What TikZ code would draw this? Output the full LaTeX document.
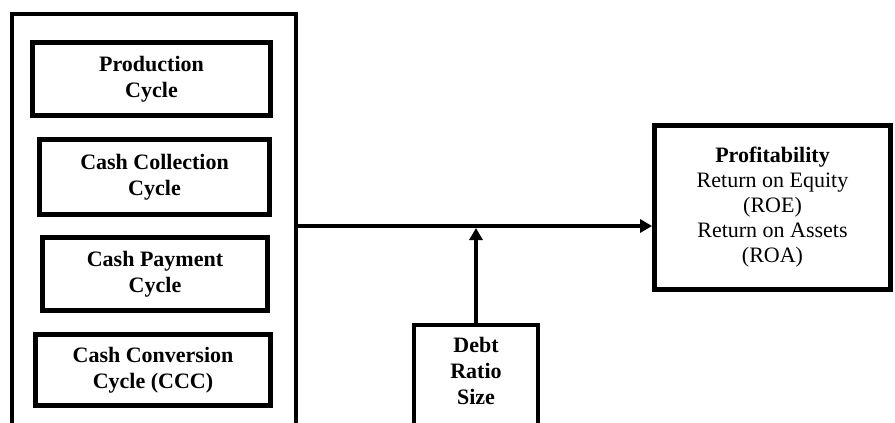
\documentclass[tikz,border=0pt]{standalone}
\usepackage{fontspec}
\setmainfont{Liberation Serif}
\usetikzlibrary{positioning,arrows.meta}
\newcommand{\BoxThick}{2.4pt}
\newcommand{\FrameThick}{2pt}
\newcommand{\LineThick}{2pt}
\newcommand{\TextSize}{\fontsize{11}{13}\selectfont}
\definecolor{Black}{RGB}{0, 0, 0}

\begin{document}
\begin{tikzpicture}[x=0.5pt,y=-0.5pt]
  \tikzstyle{every node}=[font=\TextSize, align=center, text=Black]
  \tikzstyle{cyclebox}=[draw=Black, line width=\BoxThick, inner sep=0pt, font=\TextSize\bfseries]
  \tikzstyle{arrowline}=[draw=Black, line width=\LineThick, -{Triangle[width=6.5pt,length=6pt]}]
  \useasboundingbox (0,0) rectangle (895,423);
  \clip (0,0) rectangle (895,423);

  % Frame round the cycles
  \node[draw=Black, line width=\FrameThick, minimum width=142pt, minimum height=218pt] (frame) at (154,232) {};

  % Cycles
  \node[cyclebox, minimum width=119pt, minimum height=36.5pt] (production) at (151.5,79) {Production\\Cycle};
  \node[cyclebox, minimum width=115pt, minimum height=37.5pt] (collection) at (154.5,177) {Cash Collection\\Cycle};
  \node[cyclebox, minimum width=112.5pt, minimum height=36.5pt] (payment) at (155,274) {Cash Payment\\Cycle};
  \node[cyclebox, minimum width=117.5pt, minimum height=35.5pt] (conversion) at (153,370) {Cash Conversion\\Cycle (CCC)};

  % Profitability
  \node[draw=Black, line width=\BoxThick, minimum width=118pt, minimum height=82pt, font=\fontsize{11}{12.5}\selectfont] (profit) at (772.5,207.5)
    {\textbf{Profitability}\\Return on Equity\\(ROE)\\Return on Assets\\(ROA)};

  % Control variables
  \node[draw=Black, line width=\BoxThick, minimum width=62pt, minimum height=62.5pt] (debt) at (476,387.5) {};
  \node[below=3.8pt of debt.north, font=\TextSize\bfseries] (debtlabel) {Debt\\Ratio\\Size};

  % Connectors
  \coordinate (hub) at (0,226);
  \coordinate (join) at (476,228);
  \draw[arrowline] (frame.east |- hub) -- (hub -| profit.west);
  \draw[arrowline] (debt.north) -- (join);
\end{tikzpicture}
\end{document}
